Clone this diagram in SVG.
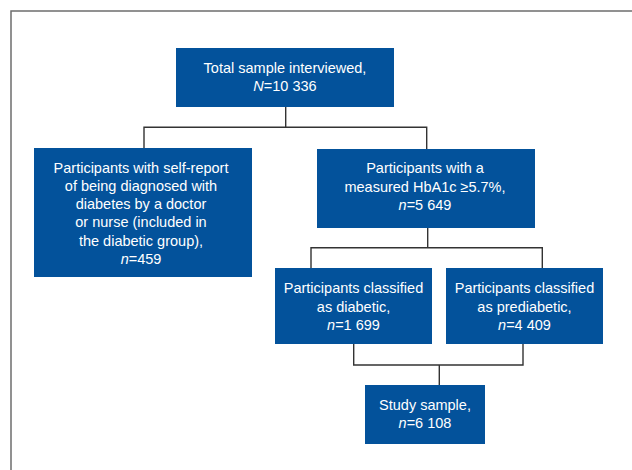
<svg xmlns="http://www.w3.org/2000/svg" width="632" height="470" viewBox="0 0 632 470">
<style>
.box{fill:#03529b;}
.t{font-family:"Liberation Sans",Arial,sans-serif;font-size:14.5px;fill:#ffffff;text-anchor:middle;}
.i{font-style:italic;}
.c{fill:none;stroke:#333333;stroke-width:1.4;}
.frame{fill:none;stroke:#6e6e6e;stroke-width:1.5;}
</style>
<rect width="632" height="470" fill="#ffffff"/>
<path class="frame" d="M11,470 V11 H632"/>
<g id="connectors">
<path class="c" d="M285.7,107 V127.3"/>
<path class="c" d="M144,148 V127.3 H426.7 V149"/>
<path class="c" d="M427.7,228 V247.7"/>
<path class="c" d="M311,268 V247.7 H542.3 V268"/>
<path class="c" d="M353.7,344 V365 H523 V344"/>
<path class="c" d="M439.3,365 V385"/>
</g>
<g id="total">
<rect class="box" x="176" y="48" width="218" height="59"/>
<text class="t" x="285" y="73.3">Total sample interviewed,</text>
<text class="t" x="285" y="90.7"><tspan class="i">N</tspan>=10 336</text>
</g>
<g id="selfreport">
<rect class="box" x="34" y="148" width="218" height="129"/>
<text class="t" x="141" y="172.7">Participants with self-report</text>
<text class="t" x="141" y="190.9">of being diagnosed with</text>
<text class="t" x="141" y="209.1">diabetes by a doctor</text>
<text class="t" x="141" y="227.3">or nurse (included in</text>
<text class="t" x="141" y="245.6">the diabetic group),</text>
<text class="t" x="141" y="263.9"><tspan class="i">n</tspan>=459</text>
</g>
<g id="measured">
<rect class="box" x="317" y="149" width="218" height="79"/>
<text class="t" x="425" y="173.3">Participants with a</text>
<text class="t" x="425" y="191.7">measured HbA1c ≥5.7%,</text>
<text class="t" x="425" y="210"><tspan class="i">n</tspan>=5 649</text>
</g>
<g id="diabetic">
<rect class="box" x="275" y="268" width="157" height="76"/>
<text class="t" x="353.5" y="293.3">Participants classified</text>
<text class="t" x="353.5" y="311.7">as diabetic,</text>
<text class="t" x="353.5" y="330"><tspan class="i">n</tspan>=1 699</text>
</g>
<g id="prediabetic">
<rect class="box" x="446" y="268" width="157" height="76"/>
<text class="t" x="524.5" y="293.3">Participants classified</text>
<text class="t" x="524.5" y="311.7">as prediabetic,</text>
<text class="t" x="524.5" y="330"><tspan class="i">n</tspan>=4 409</text>
</g>
<g id="study">
<rect class="box" x="365" y="385" width="120" height="59"/>
<text class="t" x="425" y="410">Study sample,</text>
<text class="t" x="425" y="427.7"><tspan class="i">n</tspan>=6 108</text>
</g>
</svg>
